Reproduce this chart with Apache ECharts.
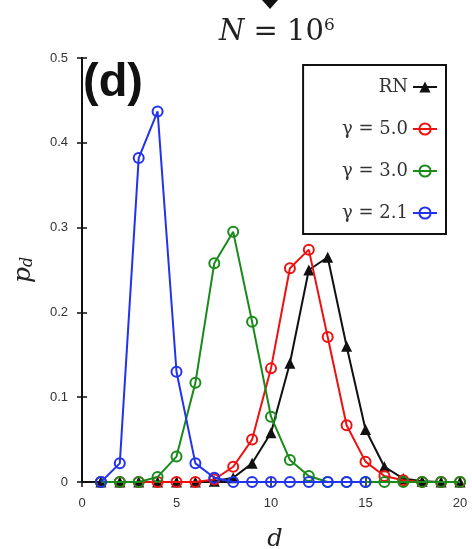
<!DOCTYPE html>
<html><head><meta charset="utf-8">
<script src="https://cdn.jsdelivr.net/npm/echarts@6/dist/echarts.min.js"></script>
<style>html,body{margin:0;padding:0;background:#fff}#c{width:472px;height:549px}</style>
</head><body><div id="c"></div>
<script>
const dValues = [1,2,3,4,5,6,7,8,9,10,11,12,13,14,15,16,17,18,19,20];
const rnValues = [0,0,0,0,0,0,0.001,0.005,0.022,0.058,0.14,0.25,0.265,0.16,0.062,0.018,0.004,0.001,0,0];
const g50Values = [0,0,0,0,0,0,0.003,0.018,0.05,0.134,0.252,0.274,0.171,0.067,0.024,0.007,0.002,0,0,0];
const g30Values = [0,0,0,0.006,0.03,0.117,0.258,0.295,0.189,0.077,0.026,0.007,0,0,0,0,0,0,0,0];
const g21Values = [0,0.022,0.382,0.437,0.13,0.022,0.005,0,0,0,0,0,0,0,0];
const seriesNames = ['RN','γ = 5.0','γ = 3.0','γ = 2.1'];
const xTicks = [0,5,10,15,20];
const yTicks = [0,0.1,0.2,0.3,0.4,0.5];

const pairs = vals => vals.map((v,i)=>[dValues[i], v]);
const colors = ['#111111','#ee1111','#1a8a1a','#2233ee'];
const serif = '"DejaVu Serif","Liberation Serif",serif';

function circleSeries(name, vals, color, z){
  return {name, type:'line', data:pairs(vals), z,
    symbol:'circle', symbolSize:10,
    lineStyle:{color, width:2},
    itemStyle:{color:'rgba(255,255,255,0)', borderColor:color, borderWidth:2},
    emphasis:{disabled:true}};
}
const chart = echarts.init(document.getElementById('c'), null, {renderer:'canvas'});
const lineStyle = {show:true, lineStyle:{color:'#111', width:2}};
const tickStyle = {show:true, inside:true, length:5, lineStyle:{color:'#111', width:1.5}};
chart.setOption({
  animation:false,
  backgroundColor:'#fff',
  grid:{left:82, right:12, top:58, bottom:67, outerBoundsMode:'none', containLabel:false},
  title:{
    text:'{i|N} = 10{s|6}', left:214, top:12,
    textStyle:{fontFamily:serif, fontSize:29, fontWeight:'normal', color:'#222',
      rich:{i:{fontFamily:serif, fontStyle:'italic', fontSize:29, color:'#222'},
            s:{fontFamily:serif, fontSize:17, color:'#222', verticalAlign:'top', padding:[0,0,14,0]}}}
  },
  legend:{
    data:seriesNames, orient:'vertical', align:'right',
    right:26, top:65,
    padding:[13,8,12,39], itemGap:24, itemWidth:24, itemHeight:14,
    backgroundColor:'#fff', borderColor:'#111', borderWidth:2,
    textStyle:{fontFamily:serif, fontSize:18, color:'#333'}
  },
  xAxis:[
    {type:'value', min:0, max:20, interval:5, position:'bottom',
     name:'d', nameLocation:'middle', nameGap:46,
     nameTextStyle:{fontFamily:serif, fontStyle:'italic', fontSize:24, color:'#222', padding:[0,0,0,8]},
     axisLine:lineStyle, axisTick:tickStyle,
     axisLabel:{fontSize:13, color:'#333', margin:15, formatter:v=>xTicks.includes(v)?String(v):''},
     splitLine:{show:false}},
    {type:'value', min:0, max:20, interval:5, position:'top',
     axisLine:lineStyle, axisTick:tickStyle,
     axisLabel:{show:false}, splitLine:{show:false}}
  ],
  yAxis:[
    {type:'value', min:0, max:0.5, interval:0.1, position:'left',
     name:'{p|p}{s|d}', nameLocation:'middle', nameGap:46, nameRotate:90,
     nameTextStyle:{rich:{p:{fontFamily:serif, fontStyle:'italic', fontSize:25, color:'#222'},
                          s:{fontFamily:serif, fontStyle:'italic', fontSize:16, color:'#222', padding:[10,0,0,0]}}},
     axisLine:lineStyle, axisTick:tickStyle,
     axisLabel:{fontSize:13, color:'#333', margin:14,
       formatter:v=>{const t=yTicks.find(y=>Math.abs(y-v)<1e-9); return t===undefined?'':(t===0?'0':t.toFixed(1));}},
     splitLine:{show:false}},
    {type:'value', min:0, max:0.5, interval:0.1, position:'right',
     axisLine:lineStyle, axisTick:tickStyle,
     axisLabel:{show:false}, splitLine:{show:false}}
  ],
  graphic:[
    {type:'text', left:83, top:60, z:100,
     style:{text:'(d)', font:'bold 47px "Liberation Sans", Arial, sans-serif', fill:'#111'}},
    {type:'polygon', z:100, shape:{points:[[262,0],[278,0],[270,9]]}, style:{fill:'#111'}}
  ],
  series:[
    {name:seriesNames[0], type:'line', data:pairs(rnValues), z:2,
     symbol:'triangle', symbolSize:11,
     lineStyle:{color:colors[0], width:2},
     itemStyle:{color:colors[0]}, emphasis:{disabled:true}},
    circleSeries(seriesNames[1], g50Values, colors[1], 3),
    circleSeries(seriesNames[2], g30Values, colors[2], 4),
    circleSeries(seriesNames[3], g21Values, colors[3], 5)
  ]
});
</script></body></html>
